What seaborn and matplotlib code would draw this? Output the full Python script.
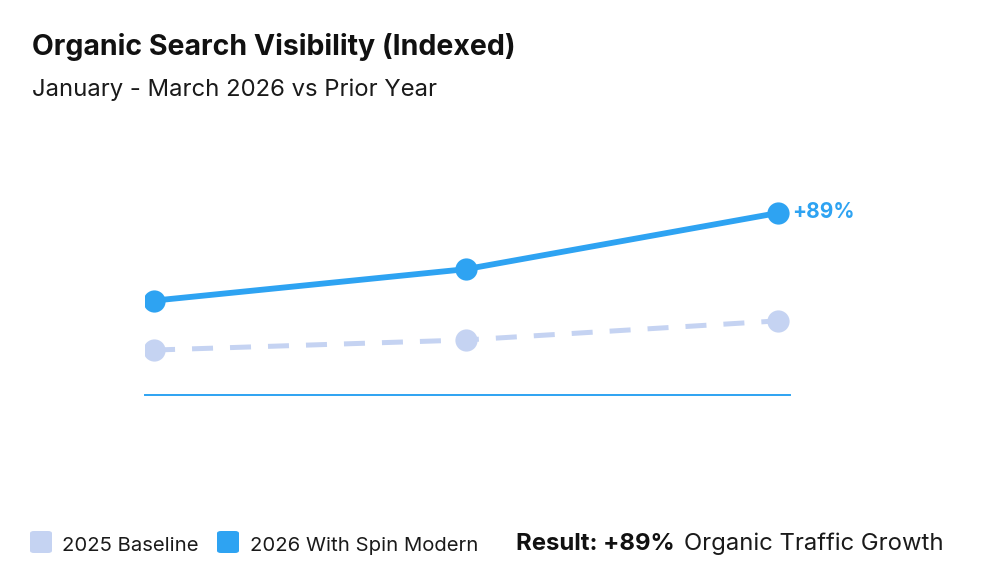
import pandas as pd
import matplotlib.pyplot as plt
import seaborn as sns
from matplotlib.patches import FancyBboxPatch

# Data (index values)
months = ["Jan", "Feb", "Mar"]
baseline_2025 = [100, 104.5, 113]
spin_2026 = [122, 136, 161]
growth_label = "+89%"

BLUE = "#2ea3f2"
LAVENDER = "#c5d3f2"


def main():
    sns.set_theme(style="white")
    plt.rcParams['font.family'] = ['Inter', 'DejaVu Sans']

    df = pd.DataFrame({
        'x': list(range(len(months))) * 2,
        'value': baseline_2025 + spin_2026,
        'series': ['2025 Baseline'] * 3 + ['2026 With Spin Modern'] * 3,
    })

    fig = plt.figure(figsize=(9.98, 5.81), dpi=100)
    ax = fig.add_axes([0.1453, 0.3201, 0.6463, 0.4217])

    base = df[df['series'] == '2025 Baseline']
    spin = df[df['series'] == '2026 With Spin Modern']
    sns.lineplot(data=base, x='x', y='value', ax=ax, color=LAVENDER, lw=3.6,
                 marker='o', markersize=16, markeredgewidth=0,
                 dashes=False, linestyle=(0, (4.2, 3.4)))
    sns.lineplot(data=spin, x='x', y='value', ax=ax, color=BLUE, lw=4.2,
                 marker='o', markersize=16, markeredgewidth=0)

    ax.annotate(growth_label, xy=(2, spin_2026[-1]), xytext=(10, 1),
                textcoords='offset points', ha='left', va='center',
                color=BLUE, fontsize=15, fontweight='bold')

    ax.set_xlim(-0.029, 2.038)
    ax.set_ylim(80, 189)
    ax.set_xticks([])
    ax.set_yticks([])
    ax.set_xlabel('')
    ax.set_ylabel('')
    for side in ['top', 'right', 'left']:
        ax.spines[side].set_visible(False)
    ax.spines['bottom'].set_color(BLUE)
    ax.spines['bottom'].set_linewidth(1.4)
    ax.patch.set_alpha(0)

    # Titles
    fig.text(0.032, 1 - 55 / 581, "Organic Search Visibility (Indexed)",
             fontsize=20.5, fontweight='bold', color='#111111', va='baseline')
    fig.text(0.032, 1 - 96 / 581, "January - March 2026 vs Prior Year",
             fontsize=17.2, color='#1a1a1a', va='baseline')

    # Legend swatches
    for x0, tx, col, label in [(30, 62, LAVENDER, "2025 Baseline"),
                               (217, 250, BLUE, "2026 With Spin Modern")]:
        fig.patches.append(FancyBboxPatch(
            (x0 / 998, 1 - 553 / 581), 22 / 998, 22 / 581,
            boxstyle="round,pad=0,rounding_size=0.004",
            transform=fig.transFigure, facecolor=col, edgecolor='none'))
        fig.text(tx / 998, 1 - 551 / 581, label, fontsize=14.6,
                 color='#1a1a1a', va='baseline')

    fig.text(516 / 998, 1 - 550 / 581, "Result: +89%", fontsize=17.2,
             fontweight='bold', color='#111111', va='baseline')
    fig.text(684 / 998, 1 - 550 / 581, "Organic Traffic Growth", fontsize=17.2,
             color='#1a1a1a', va='baseline')

    fig.savefig("out.png", dpi=100)


if __name__ == "__main__":
    main()
